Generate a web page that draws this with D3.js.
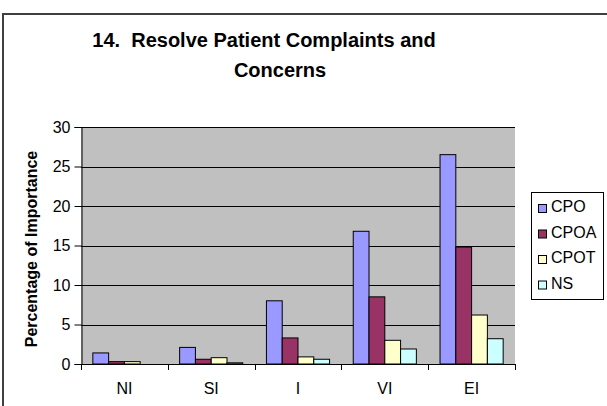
<!DOCTYPE html>
<html>
<head>
<meta charset="utf-8">
<script src="https://cdn.jsdelivr.net/npm/d3@7"></script>
<style>
  body { margin: 0; background: #fff; }
  svg { display: block; font-family: Arial, "Liberation Sans", sans-serif; }
</style>
</head>
<body>
<svg width="607" height="406"></svg>
<script>
// chart data
var categories = ["NI", "SI", "I", "VI", "EI"];
var seriesNames = ["CPO", "CPOA", "CPOT", "NS"];
var cpo  = [1.4, 2.1, 8.0, 16.8, 26.5];
var cpoa = [0.3, 0.6, 3.3, 8.5, 14.8];
var cpot = [0.3, 0.8, 0.9, 3.0, 6.2];
var ns   = [0.0, 0.15, 0.6, 1.9, 3.2];
var yTicks = [0, 5, 10, 15, 20, 25, 30];
var colors = ["#9999FF", "#993366", "#FFFFCC", "#CCFFFF"];

var seriesValues = [cpo, cpoa, cpot, ns];

var svg = d3.select("svg");

// outer chart border (only top and left are visible in the crop)
svg.append("path")
    .attr("d", "M3,406 V14 H607")
    .attr("fill", "none")
    .attr("stroke", "#404040")
    .attr("stroke-width", 2);

// title
var title = svg.append("text")
    .attr("font-size", 20)
    .attr("font-weight", "bold")
    .attr("text-anchor", "middle")
    .style("white-space", "pre");
title.append("tspan").attr("x", 264).attr("y", 47).text("14.  Resolve Patient Complaints and");
title.append("tspan").attr("x", 280).attr("y", 77).text("Concerns");

var plotL = 81, plotR = 515, plotT = 127, plotB = 364;

var x0 = d3.scaleBand().domain(categories).range([plotL, plotR]).paddingInner(0).paddingOuter(0);
var barW = x0.bandwidth() / 5.5;
var x1 = d3.scaleBand().domain(seriesNames).range([0, barW * 4]);
var y = d3.scaleLinear().domain([0, 30]).range([plotB, plotT]);

// plot background
svg.append("rect")
    .attr("x", plotL).attr("y", plotT)
    .attr("width", plotR - plotL).attr("height", plotB - plotT)
    .attr("fill", "#C0C0C0");

// gridlines
svg.append("g").selectAll("line")
    .data(yTicks.filter(function(d) { return d > 0; }))
    .enter().append("line")
    .attr("x1", plotL).attr("x2", plotR)
    .attr("y1", function(d) { return Math.round(y(d)) + 0.5; })
    .attr("y2", function(d) { return Math.round(y(d)) + 0.5; })
    .attr("stroke", "#000").attr("stroke-width", 1);

// bars
var rows = [];
categories.forEach(function(c, i) {
  seriesNames.forEach(function(s, j) {
    rows.push({cat: c, series: s, value: seriesValues[j][i], color: colors[j]});
  });
});

svg.append("g").selectAll("rect")
    .data(rows.filter(function(d) { return d.value > 0; }))
    .enter().append("rect")
    .attr("x", function(d) { return x0(d.cat) + barW * 0.75 + x1(d.series); })
    .attr("y", function(d) { return y(d.value); })
    .attr("width", barW)
    .attr("height", function(d) { return plotB - y(d.value); })
    .attr("fill", function(d) { return d.color; })
    .attr("stroke", "#000")
    .attr("stroke-width", 1);

// y axis
var yAxis = d3.axisLeft(y).tickValues(yTicks).tickSize(7).tickPadding(4);
var gy = svg.append("g").attr("transform", "translate(" + (plotL + 0.5) + ",0)").call(yAxis);
gy.select(".domain").attr("stroke", "#000");
gy.selectAll("line").attr("stroke", "#000");
gy.selectAll("text").attr("font-size", 16).attr("font-family", "Arial, 'Liberation Sans', sans-serif").attr("fill", "#000");

// x axis
svg.append("line")
    .attr("x1", plotL).attr("x2", plotR)
    .attr("y1", plotB + 0.5).attr("y2", plotB + 0.5)
    .attr("stroke", "#000");
svg.append("g").selectAll("line")
    .data(categories.map(function(c) { return x0(c); }).concat([plotR]))
    .enter().append("line")
    .attr("x1", function(d) { return Math.round(d) + 0.5; }).attr("x2", function(d) { return Math.round(d) + 0.5; })
    .attr("y1", plotB).attr("y2", plotB + 6)
    .attr("stroke", "#000");
svg.append("g").selectAll("text")
    .data(categories)
    .enter().append("text")
    .attr("x", function(d) { return x0(d) + x0.bandwidth() / 2; })
    .attr("y", 394)
    .attr("text-anchor", "middle")
    .attr("font-size", 16)
    .text(function(d) { return d; });

// y axis label
svg.append("text")
    .attr("transform", "translate(37,249) rotate(-90)")
    .attr("text-anchor", "middle")
    .attr("font-size", 16)
    .attr("font-weight", "bold")
    .text("Percentage of Importance");

// legend
var lg = svg.append("g");
lg.append("rect")
    .attr("x", 531.5).attr("y", 192.5)
    .attr("width", 72).attr("height", 107)
    .attr("fill", "#fff").attr("stroke", "#000");
var items = lg.selectAll("g.item").data(seriesNames).enter().append("g")
    .attr("transform", function(d, i) { return "translate(0," + (206 + i * 25.5) + ")"; });
items.append("rect")
    .attr("x", 538.5).attr("y", -1.5)
    .attr("width", 8).attr("height", 8)
    .attr("fill", function(d, i) { return colors[i]; })
    .attr("stroke", "#000");
items.append("text")
    .attr("x", 551).attr("y", 6)
    .attr("font-size", 16)
    .text(function(d) { return d; });
</script>
</body>
</html>
